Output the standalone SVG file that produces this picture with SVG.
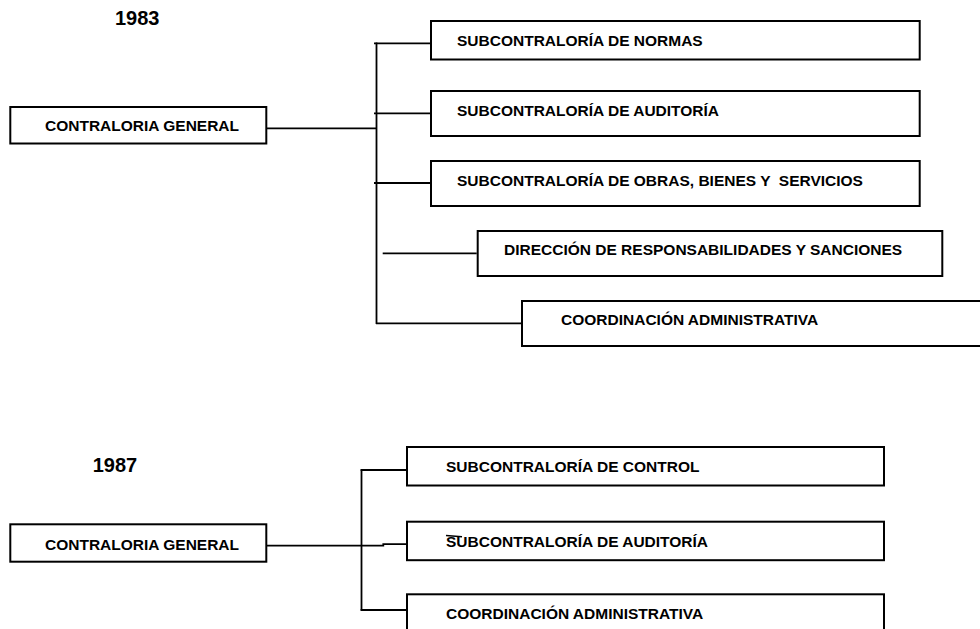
<svg xmlns="http://www.w3.org/2000/svg" width="980" height="629" viewBox="0 0 980 629">
  <style>
    .box { fill: #ffffff; stroke: #000000; stroke-width: 2; }
    .lbl { font-family: "Liberation Sans", Arial, sans-serif; font-weight: bold; font-size: 15.5px; fill: #000000; }
    .year { font-family: "Liberation Sans", Arial, sans-serif; font-weight: bold; font-size: 20px; fill: #000000; }
    .link { fill: none; stroke: #000000; stroke-width: 1.8; }
  </style>
  <rect x="0" y="0" width="980" height="629" fill="#ffffff"/>

  <!-- 1983 chart -->
  <text class="year" x="115" y="24.5">1983</text>

  <g id="connectors-1983">
    <path class="link" d="M376.5 42.5 V324"/>
    <path class="link" d="M374 43.3 H430"/>
    <path class="link" d="M374 113.3 H430"/>
    <path class="link" d="M374 183 H430"/>
    <path class="link" d="M382.7 253.3 H476.7"/>
    <path class="link" d="M376 323.3 H521"/>
    <path class="link" d="M267 128.3 H376.5"/>
  </g>

  <g id="cg-1983">
    <rect class="box" x="10.3" y="107" width="256" height="36.5"/>
    <text class="lbl" x="45" y="130.5">CONTRALORIA GENERAL</text>
  </g>
  <g id="normas-1983">
    <rect class="box" x="431" y="21" width="488.7" height="38.5"/>
    <text class="lbl" x="457" y="45.7">SUBCONTRALORÍA DE NORMAS</text>
  </g>
  <g id="auditoria-1983">
    <rect class="box" x="431" y="91" width="488.7" height="45"/>
    <text class="lbl" x="457" y="115.5">SUBCONTRALORÍA DE AUDITORÍA</text>
  </g>
  <g id="obras-1983">
    <rect class="box" x="431" y="161" width="488.7" height="45"/>
    <text class="lbl" x="457" y="185.5" xml:space="preserve">SUBCONTRALORÍA DE OBRAS, BIENES Y  SERVICIOS</text>
  </g>
  <g id="direccion-1983">
    <rect class="box" x="477.7" y="231" width="464.6" height="45"/>
    <text class="lbl" x="504" y="255">DIRECCIÓN DE RESPONSABILIDADES Y SANCIONES</text>
  </g>
  <g id="coordinacion-1983">
    <rect class="box" x="522" y="301" width="470" height="45"/>
    <text class="lbl" x="561" y="325">COORDINACIÓN ADMINISTRATIVA</text>
  </g>

  <!-- 1987 chart -->
  <text class="year" x="92.7" y="471.5">1987</text>

  <g id="connectors-1987">
    <path class="link" d="M361.5 469.5 V610.5"/>
    <path class="link" d="M360.6 470 H406"/>
    <path class="link" d="M360.6 610 H406"/>
    <path class="link" d="M267 545.7 H383.3 V544.2 H406"/>
  </g>

  <g id="cg-1987">
    <rect class="box" x="10.3" y="524.3" width="256" height="37.4"/>
    <text class="lbl" x="45" y="549.5">CONTRALORIA GENERAL</text>
  </g>
  <g id="control-1987">
    <rect class="box" x="407" y="447" width="477" height="38.5"/>
    <text class="lbl" x="446" y="472">SUBCONTRALORÍA DE CONTROL</text>
  </g>
  <g id="auditoria-1987">
    <rect class="box" x="407" y="521.7" width="477" height="38.5"/>
    <text class="lbl" x="446" y="546.5">SUBCONTRALORÍA DE AUDITORÍA</text>
    <path d="M446 535.5 L462 536.8" fill="none" stroke="#000000" stroke-width="1.5"/>
  </g>
  <g id="coordinacion-1987">
    <rect class="box" x="407" y="594.3" width="477" height="50"/>
    <text class="lbl" x="446" y="618.5">COORDINACIÓN ADMINISTRATIVA</text>
  </g>
</svg>
